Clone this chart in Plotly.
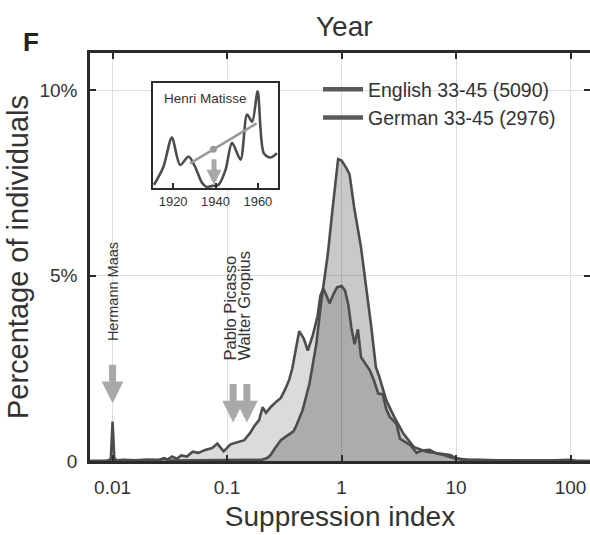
import numpy as np
import plotly.graph_objects as go

# ---------------- data ----------------
# German 33-45 (log10 of suppression index, percentage of individuals)
german_log_si = [-2.20, -2.05, -2.015, -2.0, -1.985, -1.97, -1.90, -1.80, -1.70, -1.60,
                 -1.55, -1.52, -1.48, -1.44, -1.40, -1.35, -1.30, -1.25, -1.19, -1.13,
                 -1.085, -1.03, -0.97, -0.92, -0.85, -0.80, -0.76, -0.72, -0.69, -0.66,
                 -0.62, -0.57, -0.53, -0.49, -0.456, -0.43, -0.40, -0.37, -0.33, -0.295,
                 -0.25, -0.21, -0.185, -0.16, -0.13, -0.105, -0.07, -0.04, 0.0, 0.03,
                 0.06, 0.085, 0.114, 0.143, 0.17, 0.21, 0.246, 0.28, 0.30, 0.32,
                 0.36, 0.39, 0.42, 0.48, 0.51, 0.56, 0.60, 0.655, 0.70, 0.77,
                 0.83, 0.89, 0.95, 0.99, 1.05, 1.15, 1.30, 1.50, 1.80, 2.00,
                 2.05, 2.20]
german_pct = [0, 0, 0.05, 1.06, 0.10, 0.02, 0.03, 0.02, 0.04, 0.03,
              0.08, 0.04, 0.12, 0.06, 0.15, 0.12, 0.25, 0.22, 0.30, 0.35,
              0.47, 0.26, 0.45, 0.50, 0.56, 0.75, 0.95, 1.10, 1.45, 1.30,
              1.45, 1.60, 1.70, 1.95, 2.20, 2.50, 3.00, 3.50, 3.30, 2.98,
              3.40, 3.90, 4.45, 4.65, 4.45, 4.25, 4.50, 4.68, 4.72, 4.60,
              4.20, 3.60, 3.15, 3.55, 2.80, 2.60, 2.45, 2.20, 2.00, 1.82,
              1.80, 1.40, 1.19, 1.00, 0.60, 0.50, 0.43, 0.22, 0.28, 0.30,
              0.20, 0.16, 0.10, 0.07, 0.04, 0.03, 0.02, 0.01, 0.01, 0.03,
              0, 0]

# English 33-45
english_log_si = [-2.20, -1.90, -1.60, -1.55, -1.50, -1.30, -1.10, -1.00, -0.90, -0.80,
                  -0.70, -0.65, -0.62, -0.58, -0.53, -0.49, -0.456, -0.42, -0.40, -0.34,
                  -0.28, -0.22, -0.18, -0.16, -0.12, -0.077, -0.03, 0.0, 0.04, 0.07,
                  0.11, 0.17, 0.216, 0.26, 0.30, 0.33, 0.39, 0.46, 0.54, 0.63,
                  0.74, 0.86, 0.95, 1.00, 1.10, 1.30, 1.60, 2.00, 2.20]
english_pct = [0, 0.01, 0.02, 0.06, 0.01, 0.02, 0.02, 0.04, 0.02, 0.04,
               0.03, 0.08, 0.16, 0.35, 0.56, 0.65, 0.72, 0.80, 0.92, 1.37,
               2.09, 3.16, 4.24, 4.69, 5.58, 6.84, 8.14, 8.10, 7.91, 7.73,
               6.84, 5.76, 4.69, 3.61, 2.53, 2.27, 1.64, 1.19, 0.74, 0.38,
               0.25, 0.21, 0.16, 0.07, 0.03, 0.02, 0.01, 0.01, 0]

series_names = ["English 33-45 (5090)", "German 33-45 (2976)"]

# highlighted individuals
highlight_names = ["Hermann Maas", "Pablo Picasso", "Walter Gropius"]
highlight_si = [0.01, 0.113, 0.149]

# inset: Henri Matisse mentions by year
matisse_year = [1911, 1915.4, 1919.4, 1923.3, 1927.3, 1930.4, 1933.6, 1935.9, 1938.5, 1941.4,
                1944.7, 1947.8, 1951.8, 1954.9, 1957.3, 1959.9, 1962.8, 1965.9, 1969]
matisse_val = [0.03, 0.20, 0.48, 0.22, 0.30, 0.20, 0.05, 0.01, 0.02, 0.03,
               0.17, 0.43, 0.27, 0.70, 0.63, 0.92, 0.33, 0.29, 0.33]
trend_year = [1928, 1939, 1959.4]
trend_val = [0.235, 0.37, 0.616]
matisse_arrow_year = 1939.3

x_tickvals = [0.01, 0.1, 1, 10, 100]
x_ticktext = ["0.01", "0.1", "1", "10", "100"]
y_tickvals = [0, 5, 10]
y_ticktext = ["0", "5%", "10%"]
inset_ticks = [1920, 1940, 1960]

# ---------------- figure ----------------
W, H = 590, 535
ML, MR, MT, MB = 90, 0, 53, 74
PLOT_L, PLOT_B, PW, PH = 90, 461, 500, 408


def px_x(px):
    return (px - PLOT_L) / PW


def px_y(py):
    return (PLOT_B - py) / PH


FONT = "Liberation Sans, Arial, sans-serif"
LINE = "#4d4d4d"
AX = "#2b2b2b"

g_x = 10 ** np.array(german_log_si)
e_x = 10 ** np.array(english_log_si)

fig = go.Figure()
# fills
fig.add_trace(go.Scatter(x=g_x, y=german_pct, mode="lines", fill="tozeroy",
                         fillcolor="rgba(0,0,0,0.14)", line=dict(width=0),
                         showlegend=False, hoverinfo="skip"))
fig.add_trace(go.Scatter(x=e_x, y=english_pct, mode="lines", fill="tozeroy",
                         fillcolor="rgba(0,0,0,0.21)", line=dict(width=0),
                         showlegend=False, hoverinfo="skip"))
# outlines
fig.add_trace(go.Scatter(x=g_x, y=german_pct, mode="lines",
                         line=dict(color=LINE, width=2.6), showlegend=False))
fig.add_trace(go.Scatter(x=e_x, y=english_pct, mode="lines",
                         line=dict(color=LINE, width=2.6), showlegend=False))
# legend entries
for i, nm in enumerate(series_names):
    fig.add_trace(go.Scatter(x=[None], y=[None], mode="lines", name=nm,
                             legendgroup=str(i),
                             line=dict(color="#5a5a5a", width=4.5)))

# inset
fig.add_trace(go.Scatter(x=matisse_year, y=matisse_val, mode="lines",
                         line=dict(color=LINE, width=2.6, shape="spline", smoothing=0.8),
                         xaxis="x2", yaxis="y2", showlegend=False))
fig.add_trace(go.Scatter(x=[trend_year[0], trend_year[-1]], y=[trend_val[0], trend_val[-1]],
                         mode="lines", line=dict(color="#9a9a9a", width=2.6),
                         xaxis="x2", yaxis="y2", showlegend=False))
fig.add_trace(go.Scatter(x=[trend_year[1]], y=[trend_val[1]], mode="markers",
                         marker=dict(color="#9a9a9a", size=7),
                         xaxis="x2", yaxis="y2", showlegend=False))

annotations = []
# arrows for highlighted individuals
for si in highlight_si:
    annotations.append(dict(x=np.log10(si), y=1.04 if si > 0.05 else 1.56,
                            xref="x", yref="y", text="", showarrow=True,
                            ax=0, ay=-40, arrowcolor="#a9a9a9", arrowwidth=7,
                            arrowhead=2, arrowsize=0.62))
annotations.append(dict(x=np.log10(highlight_si[0]), y=3.18, xref="x", yref="y",
                        text=highlight_names[0], textangle=-90, showarrow=False,
                        xanchor="center", yanchor="bottom",
                        font=dict(family=FONT, size=14.5, color="#333")))
for nm, lx in zip(highlight_names[1:], [-0.966, -0.844]):
    annotations.append(dict(x=lx, y=2.67, xref="x", yref="y",
                            text=nm, textangle=-90, showarrow=False,
                            xanchor="center", yanchor="bottom",
                            font=dict(family=FONT, size=16.5, color="#333")))
# inset arrow and label
annotations.append(dict(x=matisse_arrow_year, y=0.03, xref="x2", yref="y2", text="",
                        showarrow=True, ax=0, ay=-27, arrowcolor="#a9a9a9",
                        arrowwidth=5, arrowhead=2, arrowsize=0.6))
annotations.append(dict(x=0.07, y=0.94, xref="x2 domain", yref="y2 domain",
                        text="Henri Matisse", showarrow=False, xanchor="left",
                        yanchor="top", font=dict(family=FONT, size=13.5, color="#333")))
# titles
annotations.append(dict(x=px_x(344), y=px_y(26), xref="paper", yref="paper", text="Year",
                        showarrow=False, xanchor="center", yanchor="middle",
                        font=dict(family=FONT, size=28, color="#333")))
annotations.append(dict(x=px_x(31), y=px_y(42), xref="paper", yref="paper", text="<b>F</b>",
                        showarrow=False, xanchor="center", yanchor="middle",
                        font=dict(family=FONT, size=26, color="#222")))

shapes = [dict(type="rect", xref="x2 domain", yref="y2 domain", x0=0, x1=1, y0=0, y1=1,
               fillcolor="white", line=dict(width=0), layer="below")]

fig.update_layout(
    width=W, height=H,
    margin=dict(l=ML, r=MR, t=MT, b=MB, autoexpand=False),
    paper_bgcolor="white", plot_bgcolor="white",
    font=dict(family=FONT, color="#333"),
    showlegend=True,
    legend=dict(x=px_x(318), y=px_y(70), xanchor="left", yanchor="top",
                bgcolor="rgba(0,0,0,0)", font=dict(family=FONT, size=19.5, color="#333"),
                traceorder="grouped", tracegroupgap=0, itemwidth=40),
    xaxis=dict(type="log", range=[-2.197, 2.17], tickvals=x_tickvals, ticktext=x_ticktext,
               ticks="inside", ticklen=6, tickwidth=2, tickcolor=AX,
               showline=True, linecolor=AX, linewidth=2.5, mirror="ticks",
               showgrid=True, gridcolor="#dedede", gridwidth=1, zeroline=False,
               automargin=False, ticklabelstandoff=7,
               tickfont=dict(family=FONT, size=19, color="#333"),
               title=dict(text="Suppression index", font=dict(family=FONT, size=28, color="#333"),
                          standoff=10)),
    yaxis=dict(range=[0, 11], tickvals=y_tickvals, ticktext=y_ticktext,
               ticks="inside", ticklen=6, tickwidth=2, tickcolor=AX,
               showline=True, linecolor=AX, linewidth=2.5, mirror="ticks",
               showgrid=True, gridcolor="#dedede", gridwidth=1, zeroline=False,
               automargin=False, ticklabelstandoff=6,
               tickfont=dict(family=FONT, size=19, color="#333"),
               title=dict(text="Percentage of individuals",
                          font=dict(family=FONT, size=29, color="#333"), standoff=3)),
    xaxis2=dict(domain=[px_x(153), px_x(278)], anchor="y2", range=[1910.5, 1969.5],
                tickvals=inset_ticks, ticks="inside", ticklen=5, tickwidth=2, tickcolor=AX,
                showline=True, linecolor=AX, linewidth=2, mirror=True,
                showgrid=False, zeroline=False,
                tickfont=dict(family=FONT, size=13, color="#333")),
    yaxis2=dict(domain=[px_y(188), px_y(83)], anchor="x2", range=[0, 1.0],
                showticklabels=False, ticks="", showline=True, linecolor=AX, linewidth=2,
                mirror=True, showgrid=False, zeroline=False),
    annotations=annotations,
    shapes=shapes,
)

# remove the page's default 8px body margin so the figure fills the window exactly
fig.write_html("out.html",
               config={"displayModeBar": False},
               post_script="document.body.style.margin='0';document.body.style.overflow='hidden';")
